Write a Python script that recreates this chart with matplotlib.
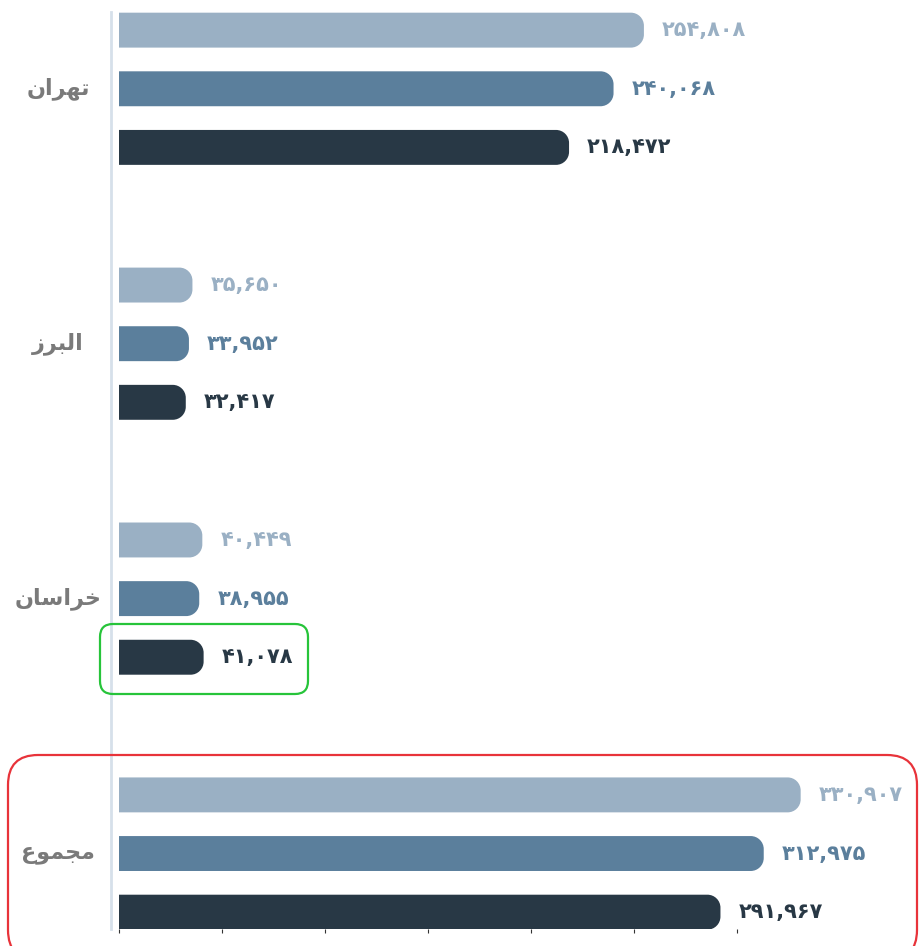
import numpy as np
import matplotlib
matplotlib.use("Agg")
import matplotlib.pyplot as plt
from matplotlib.patches import FancyBboxPatch, PathPatch
from matplotlib.path import Path

# data
categories = ["تهران", "البرز", "خراسان", "مجموع"]
series_light = [254808, 35650, 40449, 330907]
series_mid = [240068, 33952, 38955, 312975]
series_dark = [218472, 32417, 41078, 291967]

COLORS = ["#9ab0c4", "#5b7f9c", "#283845"]
CAT_COLOR = "#7a7a7a"
AXIS_COLOR = "#d6e0ea"

W, H, DPI = 919, 946, 100
BAR_H = 0.137
OFFSETS = [-0.23, 0.0, 0.23]
RADIUS_PX = 13
K = 0.5523  # bezier circle constant

FORMS = {
    "ا": ("\uFE8D", "\uFE8E", None, None),
    "ب": ("\uFE8F", "\uFE90", "\uFE91", "\uFE92"),
    "ت": ("\uFE95", "\uFE96", "\uFE97", "\uFE98"),
    "ج": ("\uFE9D", "\uFE9E", "\uFE9F", "\uFEA0"),
    "خ": ("\uFEA5", "\uFEA6", "\uFEA7", "\uFEA8"),
    "ر": ("\uFEAD", "\uFEAE", None, None),
    "ز": ("\uFEAF", "\uFEB0", None, None),
    "س": ("\uFEB1", "\uFEB2", "\uFEB3", "\uFEB4"),
    "ع": ("\uFEC9", "\uFECA", "\uFECB", "\uFECC"),
    "ل": ("\uFEDD", "\uFEDE", "\uFEDF", "\uFEE0"),
    "م": ("\uFEE1", "\uFEE2", "\uFEE3", "\uFEE4"),
    "ن": ("\uFEE5", "\uFEE6", "\uFEE7", "\uFEE8"),
    "ه": ("\uFEE9", "\uFEEA", "\uFEEB", "\uFEEC"),
    "و": ("\uFEED", "\uFEEE", None, None),
}
NO_LEFT_JOIN = set("ادذرزژو")


def shape_rtl(word):
    # matplotlib has no arabic shaping, so pick contextual forms by hand
    out = []
    n = len(word)
    for i, ch in enumerate(word):
        prev_joins = i > 0 and word[i - 1] not in NO_LEFT_JOIN
        next_joins = i < n - 1 and ch not in NO_LEFT_JOIN
        iso, fin, ini, med = FORMS[ch]
        if prev_joins and next_joins:
            out.append(med)
        elif prev_joins:
            out.append(fin)
        elif next_joins:
            out.append(ini)
        else:
            out.append(iso)
    return "".join(reversed(out))


def fa_num(v):
    return f"{v:,}".translate(str.maketrans("0123456789", "۰۱۲۳۴۵۶۷۸۹"))


def right_rounded(x0, y0, w, h, rx, ry):
    # square left end, rounded right end (rx, ry in data units)
    x1, y1 = x0 + w, y0 + h
    verts = [
        (x0, y0), (x1 - rx, y0),
        (x1 - rx + K * rx, y0), (x1, y0 + ry - K * ry), (x1, y0 + ry),
        (x1, y1 - ry),
        (x1, y1 - ry + K * ry), (x1 - rx + K * rx, y1), (x1 - rx, y1),
        (x0, y1), (x0, y0),
    ]
    codes = [Path.MOVETO, Path.LINETO,
             Path.CURVE4, Path.CURVE4, Path.CURVE4,
             Path.LINETO,
             Path.CURVE4, Path.CURVE4, Path.CURVE4,
             Path.LINETO, Path.CLOSEPOLY]
    return Path(verts, codes)


fig = plt.figure(figsize=(W / DPI, H / DPI), dpi=DPI)
ax = fig.add_axes([119 / W, (H - 929) / H, 800 / W, (929 - 12) / H])
ax.set_xlim(0, 800 / 0.00206)
ax.set_ylim(3 + (929 - 853.5) / 255, -(88.8 - 12) / 255)

# data units per pixel, used for rounded bar ends
x_per_px = (ax.get_xlim()[1] - ax.get_xlim()[0]) / 800
y_per_px = abs(ax.get_ylim()[0] - ax.get_ylim()[1]) / (929 - 12)
r_x = RADIUS_PX * x_per_px
r_y = RADIUS_PX * y_per_px

y_base = np.arange(len(categories))
for values, off, color in zip([series_light, series_mid, series_dark], OFFSETS, COLORS):
    bars = ax.barh(y_base + off, values, height=BAR_H, color=color)
    for bar, v in zip(bars, values):
        x0, y0 = bar.get_x(), bar.get_y()
        w, h = bar.get_width(), bar.get_height()
        bar.remove()
        ax.add_patch(PathPatch(right_rounded(x0, y0, w, h, r_x, r_y),
                               facecolor=color, edgecolor="none"))
        ax.annotate(
            fa_num(v), xy=(v, y0 + h / 2), xytext=(13, 0), textcoords="offset points",
            ha="left", va="center", fontsize=15, fontweight="bold", color=color,
        )

for i, cat in enumerate(categories):
    ax.annotate(
        shape_rtl(cat), xy=(0, i), xycoords=("axes fraction", "data"),
        xytext=(-44, 0), textcoords="offset points",
        ha="center", va="center", fontsize=16, fontweight="bold", color=CAT_COLOR,
    )

ax.set_xticks(np.arange(0, 300001, 50000))
ax.set_yticks([])
ax.tick_params(axis="x", length=3, width=0.8, color="#333333", labelbottom=False)
for side in ["top", "right", "bottom"]:
    ax.spines[side].set_visible(False)
ax.spines["left"].set_position(("outward", 5.8))
ax.spines["left"].set_color(AXIS_COLOR)
ax.spines["left"].set_linewidth(2)

# highlight boxes, drawn in figure inches
def px_box(x0, y0, x1, y1, r, color):
    fig.patches.append(FancyBboxPatch(
        (x0 / DPI, (H - y1) / DPI), (x1 - x0) / DPI, (y1 - y0) / DPI,
        boxstyle=f"round,pad=0,rounding_size={r / DPI}",
        transform=fig.dpi_scale_trans, facecolor="none", edgecolor=color,
        linewidth=1.6, zorder=5,
    ))

px_box(100, 624, 308, 694, 13, "#27c43a")
px_box(8, 755, 917, 960, 30, "#e8333a")

fig.savefig("out.png", dpi=DPI)
